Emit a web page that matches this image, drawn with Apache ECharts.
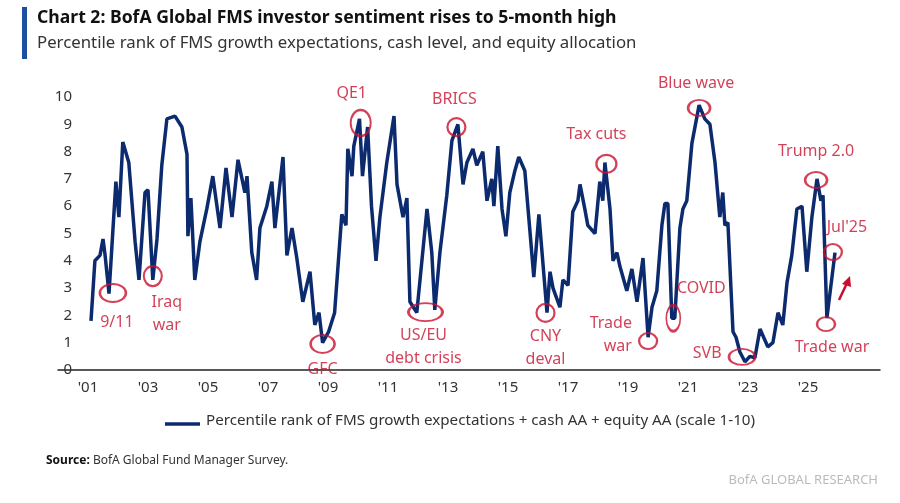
<!DOCTYPE html>
<html>
<head>
<meta charset="utf-8">
<script src="https://cdn.jsdelivr.net/npm/echarts@6/dist/echarts.min.js"></script>
<style>
html,body{margin:0;padding:0;background:#fff;}
#chart{width:900px;height:503px;}
</style>
</head>
<body>
<div id="chart"></div>
<script>
// years (decimal) and sentiment values
var years = [2001.1,2001.23,2001.4,2001.5,2001.57,2001.7,2001.93,2002.03,2002.16,2002.36,2002.57,2002.7,2002.9,2003.0,2003.16,2003.3,2003.46,2003.63,2003.9,2004.13,2004.3,2004.33,2004.43,2004.56,2004.73,2004.96,2005.16,2005.4,2005.6,2005.8,2006.0,2006.23,2006.3,2006.46,2006.62,2006.73,2006.96,2007.13,2007.23,2007.5,2007.63,2007.8,2007.96,2008.16,2008.4,2008.56,2008.7,2008.82,2009.02,2009.22,2009.46,2009.6,2009.66,2009.8,2009.86,2010.05,2010.15,2010.32,2010.45,2010.6,2010.73,2010.96,2011.2,2011.3,2011.5,2011.63,2011.73,2011.96,2012.3,2012.46,2012.56,2012.73,2012.96,2013.13,2013.33,2013.5,2013.63,2013.83,2013.96,2014.16,2014.3,2014.46,2014.53,2014.66,2014.8,2014.93,2015.06,2015.23,2015.36,2015.56,2015.73,2015.86,2016.03,2016.3,2016.4,2016.5,2016.73,2016.83,2017.0,2017.16,2017.33,2017.4,2017.56,2017.66,2017.9,2018.06,2018.16,2018.23,2018.4,2018.5,2018.63,2018.73,2018.96,2019.13,2019.3,2019.5,2019.67,2019.8,2019.96,2020.13,2020.23,2020.33,2020.46,2020.56,2020.73,2020.83,2020.96,2021.13,2021.37,2021.56,2021.73,2021.9,2022.06,2022.16,2022.23,2022.33,2022.5,2022.6,2022.73,2022.9,2023.06,2023.23,2023.4,2023.66,2023.83,2024.0,2024.16,2024.3,2024.46,2024.63,2024.8,2024.96,2025.13,2025.3,2025.43,2025.5,2025.63,2025.9];
var values = [1.8,4.0,4.2,4.8,4.2,2.8,6.9,5.6,8.35,7.6,4.7,3.3,6.5,6.6,3.3,4.8,7.5,9.2,9.3,8.9,7.9,4.9,6.3,3.3,4.7,5.9,7.1,5.2,7.4,5.6,7.7,6.5,7.1,4.3,3.3,5.2,6.0,6.9,5.2,7.8,4.2,5.2,4.1,2.5,3.6,1.65,2.1,1.0,1.4,2.1,5.7,5.3,8.1,7.1,8.2,9.2,7.1,8.9,6.0,4.0,5.6,7.6,9.3,6.8,5.6,6.3,2.5,2.1,5.9,4.3,2.2,4.3,6.4,8.4,9.0,6.8,7.6,8.1,7.5,8.0,6.2,7.0,6.0,8.2,5.9,4.9,6.5,7.3,7.8,7.3,5.1,3.4,5.7,2.1,3.6,3.0,2.3,3.3,3.1,5.8,6.2,6.8,5.9,5.3,5.0,6.9,6.2,7.6,5.9,4.0,4.3,3.8,2.9,3.7,2.5,4.1,1.2,2.3,2.9,5.3,6.1,6.1,1.9,1.9,5.2,5.9,6.2,8.3,9.7,9.2,9.0,7.6,5.6,6.5,5.3,5.4,1.4,1.2,0.66,0.3,0.5,0.45,1.5,0.85,1.0,2.1,1.65,3.2,4.2,5.9,6.0,3.6,5.6,7.0,6.2,6.4,1.9,4.3];
var yTicks = [0,1,2,3,4,5,6,7,8,9,10];
var xTickYears = [2001,2003,2005,2007,2009,2011,2013,2015,2017,2019,2021,2023,2025];

// annotated events: [year, value, label]
var events = [
  [2001.83, 2.82, '9/11'],
  [2003.16, 3.44, 'Iraq\nwar'],
  [2008.82, 0.95, 'GFC'],
  [2010.09, 9.05, 'QE1'],
  [2012.25, 2.12, 'US/EU\ndebt crisis'],
  [2013.28, 8.9, 'BRICS'],
  [2016.25, 2.09, 'CNY\ndeval'],
  [2018.28, 7.55, 'Tax cuts'],
  [2019.67, 1.06, 'Trade\nwar'],
  [2020.51, 1.9, 'COVID'],
  [2021.37, 9.6, 'Blue wave'],
  [2022.8, 0.48, 'SVB'],
  [2025.27, 6.96, 'Trump 2.0'],
  [2025.83, 4.32, "Jul'25"],
  [2025.6, 1.68, 'Trade war']
];
// circle size and label placement for each event (style only)
var evStyle = [
  {s:[26,18], p:'bottom', o:[4,6]},
  {s:[18,20], p:'bottom', o:[14,2]},
  {s:[24,18], p:'bottom', o:[0,2]},
  {s:[20,26], p:'top', o:[-9,-2]},
  {s:[34,18], p:'bottom', o:[-2,0]},
  {s:[18,18], p:'top', o:[-2,-4]},
  {s:[18,18], p:'bottom', o:[0,0]},
  {s:[20,18], p:'top', o:[-10,-6]},
  {s:[18,16], p:'left', o:[-4,-6]},
  {s:[14,26], p:'top', o:[28,-2]},
  {s:[22,16], p:'top', o:[-3,-2]},
  {s:[26,16], p:'left', o:[-4,-3]},
  {s:[22,16], p:'top', o:[0,-6]},
  {s:[18,16], p:'top', o:[14,-2]},
  {s:[18,14], p:'bottom', o:[6,2]}
];

var red = '#c8102e';
var navy = '#0c2a6e';
var lineData = years.map(function(y, i) { return [y, values[i]]; });
var evData = events.map(function(e, i) {
  var st = evStyle[i];
  return {
    value: [e[0], e[1]],
    symbolSize: st.s,
    label: {show: true, formatter: e[2], position: st.p, offset: st.o,
      color: red, fontSize: 16, lineHeight: 23, fontFamily: 'Noto Sans', distance: 2}
  };
});

var chart = echarts.init(document.getElementById('chart'));
chart.setOption({
  animation: false,
  grid: {left: 58, right: 20, top: 97, bottom: 133},
  xAxis: {
    type: 'value', min: 2000, max: 2027.4, interval: 1,
    axisLine: {lineStyle: {color: '#222', width: 1.5}},
    axisTick: {show: false},
    splitLine: {show: false},
    axisLabel: {
      color: '#333', fontSize: 15, fontFamily: 'Noto Sans', margin: 10,
      showMinLabel: false, showMaxLabel: false,
      formatter: function(v) {
        return xTickYears.indexOf(v) >= 0 ? "'" + String(v).slice(2) : '';
      }
    }
  },
  yAxis: {
    type: 'value', min: yTicks[0], max: yTicks[yTicks.length - 1], interval: 1,
    axisLine: {show: false}, axisTick: {show: false}, splitLine: {show: false},
    axisLabel: {color: '#333', fontSize: 15, fontFamily: 'Noto Sans', margin: -14}
  },
  series: [{
    type: 'line', data: lineData, showSymbol: false,
    lineStyle: {color: navy, width: 3.5}, z: 2
  }, {
    type: 'scatter', data: evData, symbol: 'circle',
    itemStyle: {color: 'rgba(0,0,0,0)', borderColor: red, borderWidth: 2.2}, z: 3
  }],
  graphic: [
    {type: 'rect', shape: {x: 22, y: 7, width: 5, height: 52}, style: {fill: '#1d4fa1'}},
    {type: 'text', left: 37, top: 9, style: {text: 'Chart 2: BofA Global FMS investor sentiment rises to 5-month high',
      font: 'bold 17.6px "Noto Sans"', fill: '#111'}},
    {type: 'text', left: 37, top: 35, style: {text: 'Percentile rank of FMS growth expectations, cash level, and equity allocation',
      font: '16.8px "Noto Sans"', fill: '#333'}},
    {type: 'line', shape: {x1: 165, y1: 424, x2: 200, y2: 424}, style: {stroke: navy, lineWidth: 3.5}},
    {type: 'text', left: 206, top: 413, style: {text: 'Percentile rank of FMS growth expectations + cash AA + equity AA (scale 1-10)',
      font: '15.2px "Noto Sans"', fill: '#333'}},
    {type: 'text', left: 46, top: 455, style: {text: '{b|Source:} BofA Global Fund Manager Survey.',
      rich: {b: {fontWeight: 'bold', fontSize: 12, fontFamily: 'Noto Sans', fill: '#111'}},
      font: '12px "Noto Sans"', fill: '#333'}},
    {type: 'text', right: 22, top: 474, style: {text: 'BofA GLOBAL RESEARCH', font: '13px "Noto Sans"', fill: '#bbb'}},
    {type: 'polyline', shape: {points: [[839, 300], [847, 283]]}, style: {stroke: red, lineWidth: 2.5}},
    {type: 'polygon', shape: {points: [[850, 276], [842, 284], [851, 287]]}, style: {fill: red}}
  ]
});
</script>
</body>
</html>
